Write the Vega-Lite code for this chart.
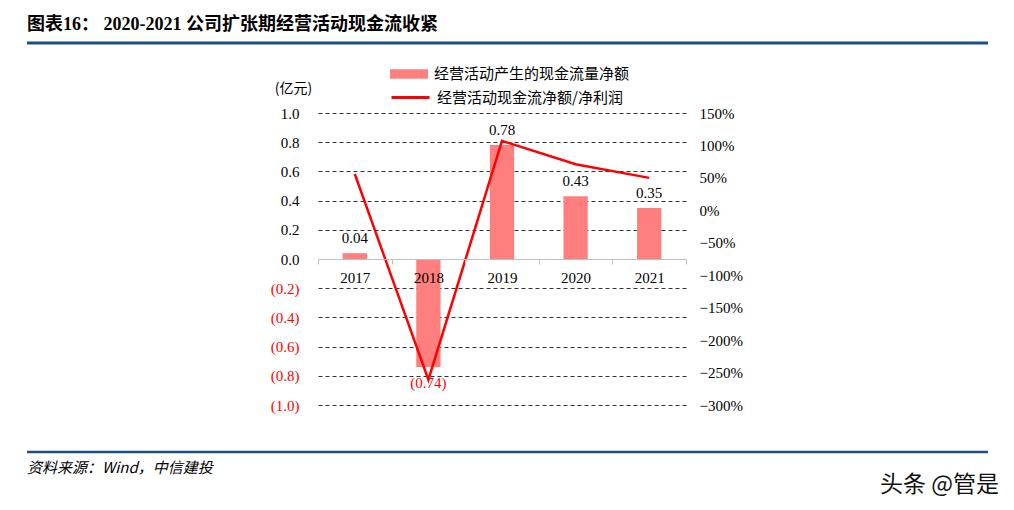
{
  "$schema": "https://vega.github.io/schema/vega-lite/v6.json",
  "width": 368,
  "height": 292,
  "autosize": {"type": "none"},
  "padding": {"left": 318, "top": 113, "right": 328, "bottom": 105},
  "background": "white",
  "config": {"view": {"stroke": null}, "font": "Liberation Serif, Noto Sans CJK SC"},
  "title": {
    "text": "图表16：  2020-2021 公司扩张期经营活动现金流收紧",
    "anchor": "start",
    "frame": "group",
    "dx": -291,
    "offset": 8,
    "font": "Liberation Serif, Noto Sans CJK SC",
    "fontSize": 18,
    "fontWeight": "bold",
    "color": "black"
  },
  "data": {
    "values": [
      {"year": "2017", "cf": 0.04, "ratio": 0.56},
      {"year": "2018", "cf": -0.74, "ratio": -2.61},
      {"year": "2019", "cf": 0.78, "ratio": 1.07},
      {"year": "2020", "cf": 0.43, "ratio": 0.71},
      {"year": "2021", "cf": 0.35, "ratio": 0.50}
    ]
  },
  "layer": [
    {
      "layer": [
        {
          "mark": {"type": "bar", "width": {"band": 0.33}},
          "encoding": {
            "x": {
              "field": "year", "type": "nominal", "sort": null,
              "scale": {"paddingInner": 0, "paddingOuter": 0},
              "axis": {
                "orient": "bottom", "offset": -146, "title": null, "labelAngle": 0,
                "domainColor": "#BFBFBF", "domainWidth": 1, "tickColor": "#BFBFBF",
                "tickBand": "extent", "tickSize": 5, "labelPadding": 6,
                "labelFontSize": 15, "labelColor": "black", "grid": false,
                "labelFont": "Liberation Serif", "zindex": 1
              }
            },
            "y": {
              "field": "cf", "type": "quantitative",
              "scale": {"domain": [-1, 1], "nice": false},
              "axis": {
                "orient": "left",
                "values": [-1, -0.8, -0.6, -0.4, -0.2, 0, 0.2, 0.4, 0.6, 0.8, 1],
                "labelOverlap": false,
                "labelExpr": "datum.value < 0 ? '(' + format(-datum.value, '.1f') + ')' : format(datum.value, '.1f')",
                "labelColor": {"condition": {"test": "datum.value < 0", "value": "#FF0000"}, "value": "black"},
                "grid": true, "gridDash": [4, 3], "gridColor": "#333333", "gridWidth": 1,
                "gridOpacity": {"condition": {"test": "datum.value === 0", "value": 0}, "value": 1},
                "domain": false, "ticks": false, "labelPadding": 19,
                "labelFontSize": 15, "labelFont": "Liberation Serif",
                "title": "(亿元)", "titleAngle": 0, "titleX": -25, "titleY": -25,
                "titleFont": "Noto Sans CJK SC", "titleFontWeight": "normal", "titleFontSize": 14,
                "titleAlign": "center", "titleBaseline": "middle", "titleColor": "black"
              }
            },
            "fill": {
              "datum": "经营活动产生的现金流量净额", "type": "nominal",
              "scale": {"range": ["#FF7F7F"]},
              "legend": {
                "orient": "none", "legendX": 72, "legendY": -58, "title": null,
                "symbolType": "M-1,-0.25H1V0.25H-1Z", "symbolSize": 1444, "symbolStrokeWidth": 0,
                "labelFont": "Noto Sans CJK SC", "labelFontSize": 15, "labelOffset": 6,
                "labelColor": "black", "labelLimit": 0
              }
            }
          }
        },
        {
          "transform": [
            {"filter": "datum.cf >= 0"},
            {"calculate": "format(datum.cf, '.2f')", "as": "lbl"}
          ],
          "mark": {"type": "text", "fontSize": 15, "font": "Liberation Serif", "baseline": "alphabetic", "dy": -10, "color": "black"},
          "encoding": {
            "x": {"field": "year", "type": "nominal", "sort": null},
            "y": {
              "field": "cf", "type": "quantitative",
              "axis": {
                "orient": "left",
                "values": [-1, -0.8, -0.6, -0.4, -0.2, 0, 0.2, 0.4, 0.6, 0.8, 1],
                "labelOverlap": false,
                "labelExpr": "datum.value < 0 ? '(' + format(-datum.value, '.1f') + ')' : format(datum.value, '.1f')",
                "labelColor": {"condition": {"test": "datum.value < 0", "value": "#FF0000"}, "value": "black"},
                "grid": true, "gridDash": [4, 3], "gridColor": "#333333", "gridWidth": 1,
                "gridOpacity": {"condition": {"test": "datum.value === 0", "value": 0}, "value": 1},
                "domain": false, "ticks": false, "labelPadding": 19,
                "labelFontSize": 15, "labelFont": "Liberation Serif",
                "title": "(亿元)", "titleAngle": 0, "titleX": -25, "titleY": -25,
                "titleFont": "Noto Sans CJK SC", "titleFontWeight": "normal", "titleFontSize": 14,
                "titleAlign": "center", "titleBaseline": "middle", "titleColor": "black"
              }
            },
            "text": {"field": "lbl"}
          }
        },
        {
          "transform": [
            {"filter": "datum.cf < 0"},
            {"calculate": "'(' + format(-datum.cf, '.2f') + ')'", "as": "lbl"}
          ],
          "mark": {"type": "text", "fontSize": 15, "font": "Liberation Serif", "baseline": "top", "dy": 9, "color": "#FF0000"},
          "encoding": {
            "x": {"field": "year", "type": "nominal", "sort": null},
            "y": {
              "field": "cf", "type": "quantitative",
              "axis": {
                "orient": "left",
                "values": [-1, -0.8, -0.6, -0.4, -0.2, 0, 0.2, 0.4, 0.6, 0.8, 1],
                "labelOverlap": false,
                "labelExpr": "datum.value < 0 ? '(' + format(-datum.value, '.1f') + ')' : format(datum.value, '.1f')",
                "labelColor": {"condition": {"test": "datum.value < 0", "value": "#FF0000"}, "value": "black"},
                "grid": true, "gridDash": [4, 3], "gridColor": "#333333", "gridWidth": 1,
                "gridOpacity": {"condition": {"test": "datum.value === 0", "value": 0}, "value": 1},
                "domain": false, "ticks": false, "labelPadding": 19,
                "labelFontSize": 15, "labelFont": "Liberation Serif",
                "title": "(亿元)", "titleAngle": 0, "titleX": -25, "titleY": -25,
                "titleFont": "Noto Sans CJK SC", "titleFontWeight": "normal", "titleFontSize": 14,
                "titleAlign": "center", "titleBaseline": "middle", "titleColor": "black"
              }
            },
            "text": {"field": "lbl"}
          }
        }
      ]
    },
    {
      "mark": {"type": "line", "strokeWidth": 2.5},
      "encoding": {
        "x": {"field": "year", "type": "nominal", "sort": null},
        "y": {
          "field": "ratio", "type": "quantitative",
          "scale": {"domain": [-3, 1.5], "nice": false},
          "axis": {
            "orient": "right",
            "values": [-3, -2.5, -2, -1.5, -1, -0.5, 0, 0.5, 1, 1.5],
            "labelOverlap": false,
            "format": ".0%", "grid": false, "domain": false, "ticks": false,
            "labelPadding": 13, "labelFontSize": 15, "labelFont": "Liberation Serif",
            "labelColor": "black", "title": null
          }
        },
        "stroke": {
          "datum": "经营活动现金流净额/净利润", "type": "nominal",
          "scale": {"range": ["#FF0000"]},
          "legend": {
            "orient": "none", "legendX": 72, "legendY": -36, "title": null,
            "symbolType": "stroke", "symbolSize": 1444, "symbolStrokeWidth": 3,
            "labelFont": "Noto Sans CJK SC", "labelFontSize": 15, "labelOffset": 6,
            "labelColor": "black", "labelLimit": 0
          }
        }
      }
    },
    {
      "data": {"values": [{"k": "top"}]},
      "mark": {"type": "rule", "color": "#1B4E83", "strokeWidth": 3},
      "encoding": {"x": {"value": -291}, "x2": {"value": 670}, "y": {"value": -70}}
    },
    {
      "data": {"values": [{"k": "bottom"}]},
      "mark": {"type": "rule", "color": "#1B4E83", "strokeWidth": 2.5},
      "encoding": {"x": {"value": -291}, "x2": {"value": 670}, "y": {"value": 339}}
    },
    {
      "data": {"values": [{"t": "资料来源：Wind，中信建投"}]},
      "mark": {"type": "text", "align": "left", "baseline": "middle", "fontStyle": "italic", "fontSize": 15, "font": "Noto Sans CJK SC", "color": "black"},
      "encoding": {"text": {"field": "t"}, "x": {"value": -291}, "y": {"value": 355}}
    },
    {
      "data": {"values": [{"t": "头条 @管是"}]},
      "mark": {"type": "text", "align": "left", "baseline": "middle", "fontSize": 23, "font": "Noto Sans CJK SC", "color": "#111111"},
      "encoding": {"text": {"field": "t"}, "x": {"value": 562}, "y": {"value": 372}}
    }
  ],
  "resolve": {"scale": {"y": "independent", "fill": "independent", "stroke": "independent"}}
}
